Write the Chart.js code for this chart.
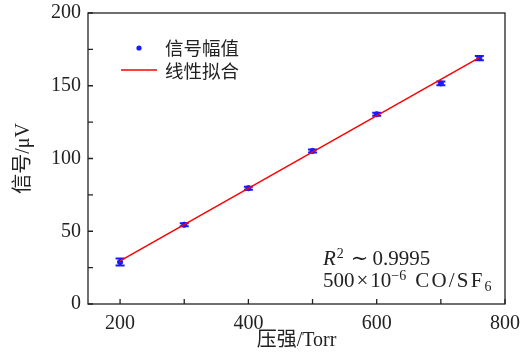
<!DOCTYPE html>
<html>
<head>
<meta charset="utf-8">
<script src="https://cdn.jsdelivr.net/npm/chart.js@4/dist/chart.umd.min.js"></script>
<style>
    html, body { margin: 0; padding: 0; background: #fff; }
</style>
</head>
<body>
<canvas id="chart" width="527" height="355"></canvas>
<script>
// values
const pressure = [200, 300, 400, 500, 600, 700, 760];
const signal = [28.8, 54.5, 79.6, 105.2, 130.4, 151.6, 169.0];
const signalErr = [2.4, 1.0, 1.0, 1.0, 1.0, 1.3, 1.5];
const fitPressure = [200, 760];
const fitSignal = [29.7, 169.3];
const legendLabels = ['信号幅值', '线性拟合'];
const xTitle = '压强/Torr';
const yTitle = '信号/μV';

const serif = "'Liberation Serif', 'DejaVu Serif', serif";
const mixed = "'Liberation Serif', 'Noto Sans CJK SC', serif";
const cjk = "'Noto Sans CJK SC', sans-serif";
const ink = '#222';

// error bars under the points
const errorBars = {
    id: 'errorBars',
    beforeDatasetsDraw(chart) {
        const { ctx, scales: { x, y } } = chart;
        ctx.save();
        ctx.strokeStyle = '#1a1aff';
        ctx.lineWidth = 2;
        ctx.beginPath();
        pressure.forEach((p, i) => {
            const px = x.getPixelForValue(p);
            const top = y.getPixelForValue(signal[i] + signalErr[i]);
            const bot = y.getPixelForValue(signal[i] - signalErr[i]);
            ctx.moveTo(px, top); ctx.lineTo(px, bot);
            ctx.moveTo(px - 4.5, top); ctx.lineTo(px + 4.5, top);
            ctx.moveTo(px - 4.5, bot); ctx.lineTo(px + 4.5, bot);
        });
        ctx.stroke();
        ctx.restore();
    }
};

// box round the plot, ticks pointing inward
const frame = {
    id: 'frame',
    afterDatasetsDraw(chart) {
        const { ctx, chartArea: a, scales: { x, y } } = chart;
        ctx.save();
        ctx.strokeStyle = ink;
        ctx.lineWidth = 1.3;
        ctx.strokeRect(a.left, a.top, a.right - a.left, a.bottom - a.top);
        ctx.beginPath();
        x.ticks.forEach(t => {
            if (t.value % 100) return;
            const px = x.getPixelForValue(t.value);
            ctx.moveTo(px, a.bottom); ctx.lineTo(px, a.bottom - 5);
        });
        y.ticks.forEach(t => {
            if (t.value % 25) return;
            const py = y.getPixelForValue(t.value);
            ctx.moveTo(a.left, py); ctx.lineTo(a.left + 5, py);
        });
        ctx.stroke();
        ctx.restore();
    }
};

function drawRuns(ctx, x, y, runs) {
    runs.forEach(r => {
        const size = r.sup || r.sub ? 14 : 21;
        ctx.font = (r.italic ? 'italic ' : '') + size + 'px ' + serif;
        ctx.letterSpacing = (r.spread || 0) + 'px';
        const dy = r.sup ? -7 : r.sub ? 4 : 0;
        ctx.fillText(r.t, x, y + dy);
        x += ctx.measureText(r.t).width + (r.gap || 0);
    });
    ctx.letterSpacing = '0px';
}

// legend inside the plot and the fit note
const notes = {
    id: 'notes',
    afterDraw(chart) {
        const { ctx, chartArea: a } = chart;
        ctx.save();
        ctx.fillStyle = '#1a1aff';
        ctx.beginPath();
        ctx.arc(a.left + 51, a.top + 35, 2.6, 0, Math.PI * 2);
        ctx.fill();
        ctx.strokeStyle = '#ff0000';
        ctx.lineWidth = 1.5;
        ctx.beginPath();
        ctx.moveTo(a.left + 33, a.top + 57);
        ctx.lineTo(a.left + 69, a.top + 57);
        ctx.stroke();

        ctx.fillStyle = ink;
        ctx.font = '18.5px ' + cjk;
        ctx.textBaseline = 'middle';
        ctx.fillText(legendLabels[0], a.left + 77, a.top + 35);
        ctx.fillText(legendLabels[1], a.left + 77, a.top + 58);

        ctx.textBaseline = 'alphabetic';
        drawRuns(ctx, a.left + 235, a.top + 252, [
            { t: 'R', italic: true, gap: 1 },
            { t: '2', sup: true, gap: 7 },
            { t: '\u223C', gap: 4 },
            { t: '0.9995' }
        ]);
        drawRuns(ctx, a.left + 235, a.top + 274, [
            { t: '500', gap: 2 },
            { t: '\u00D7', gap: 2 },
            { t: '10' },
            { t: '\u22126', sup: true, gap: 9 },
            { t: 'CO/SF', spread: 2.2 },
            { t: '6', sub: true }
        ]);
        ctx.restore();
    }
};

new Chart(document.getElementById('chart'), {
    type: 'scatter',
    data: {
        datasets: [
            {
                label: legendLabels[1],
                data: fitPressure.map((p, i) => ({ x: p, y: fitSignal[i] })),
                showLine: true,
                borderColor: '#ff0000',
                borderWidth: 1.5,
                pointRadius: 0,
                order: 0
            },
            {
                label: legendLabels[0],
                data: pressure.map((p, i) => ({ x: p, y: signal[i] })),
                backgroundColor: '#1a1aff',
                borderColor: '#1a1aff',
                pointRadius: 2.6,
                order: 1
            }
        ]
    },
    options: {
        responsive: false,
        animation: false,
        layout: { padding: { top: 13, right: 22, left: 0, bottom: 0 } },
        plugins: {
            legend: { display: false },
            tooltip: { enabled: false }
        },
        scales: {
            x: {
                type: 'linear',
                min: 150,
                max: 800,
                grid: { display: false, drawTicks: false },
                border: { display: false },
                ticks: {
                    stepSize: 100,
                    includeBounds: false,
                    padding: 8,
                    autoSkip: false,
                    color: ink,
                    font: { family: serif, size: 20 },
                    maxRotation: 0,
                    callback: v => (v % 200 === 0 ? v : '')
                },
                title: {
                    display: true,
                    text: xTitle,
                    color: ink,
                    font: { family: mixed, size: 20 },
                    padding: { top: 0, bottom: 2 }
                },
                afterFit: s => { s.height = 51; s.paddingLeft = 0; s.paddingRight = 0; }
            },
            y: {
                min: 0,
                max: 200,
                grid: { display: false, drawTicks: false },
                border: { display: false },
                ticks: {
                    stepSize: 25,
                    padding: 7,
                    autoSkip: false,
                    color: ink,
                    font: { family: serif, size: 20 },
                    callback: v => (v % 50 === 0 ? v : '')
                },
                title: {
                    display: true,
                    text: yTitle,
                    color: ink,
                    font: { family: mixed, size: 20 },
                    padding: { top: 12, bottom: 0 }
                },
                afterFit: s => { s.width = 88; s.paddingTop = 0; s.paddingBottom = 0; }
            }
        }
    },
    plugins: [errorBars, frame, notes]
});
</script>
</body>
</html>
